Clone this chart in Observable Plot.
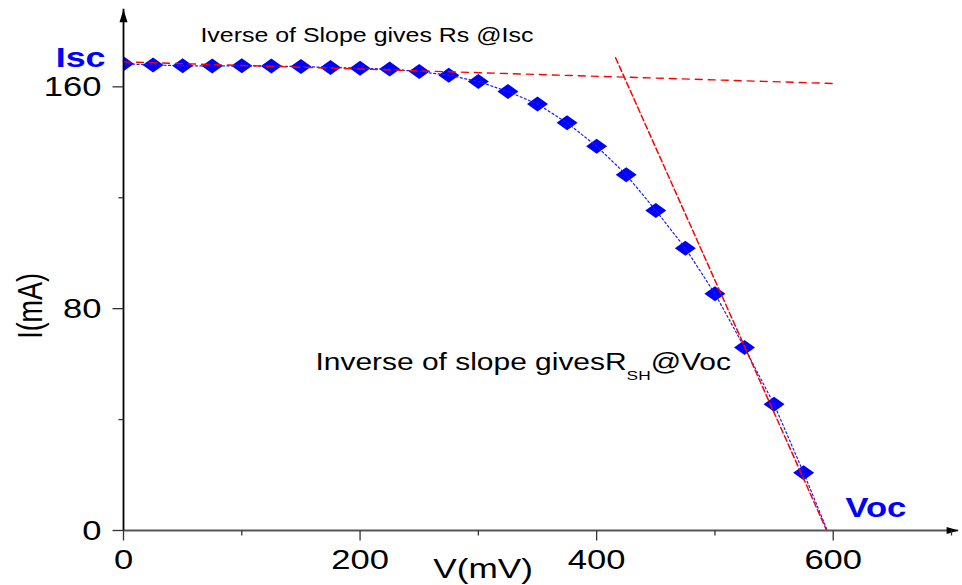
<!DOCTYPE html>
<html>
<head>
<meta charset="utf-8">
<script src="https://cdn.jsdelivr.net/npm/d3@7"></script>
<script src="https://cdn.jsdelivr.net/npm/@observablehq/plot@0.6"></script>
<style>
  html, body { margin: 0; padding: 0; background: #fff; }
  #chart svg { display: block; }
</style>
</head>
<body>
<div id="chart"></div>
<script>
// ---- data ----
const voltage = [0, 25, 50, 75, 100, 125, 150, 175, 200, 225, 250, 275, 300, 325, 350, 375, 400, 425, 450, 475, 500, 525, 550, 575];
const current = [168.3, 167.9, 167.6, 167.5, 167.6, 167.5, 167.3, 167.0, 166.7, 166.4, 165.5, 164.2, 161.9, 158.3, 153.8, 147.0, 138.6, 128.3, 115.4, 101.8, 85.4, 66.0, 45.5, 20.8];
const vocVoltage = 595;            // where the measured curve meets I = 0
const rsFitV = [0, 600];           // tangent near Isc
const rsFitI = [169.0, 161.2];
const rshFitV = [416, 594.5];      // tangent near Voc
const rshFitI = [170.5, 0];
const xMajorTicks = [0, 200, 400, 600];
const xMinorTicks = [100, 300, 500, 700];
const yMajorTicks = [0, 80, 160];
const yMinorTicks = [40, 120];
const xLabel = "V(mV)";
const yLabel = "I(mA)";
const noteRs = "Iverse of Slope gives Rs @Isc";
const noteRshParts = ["Inverse of slope givesR", "SH", "@Voc"];
const iscLabel = "Isc";
const vocLabel = "Voc";
const xAxisEnd = 706;
const yAxisEnd = 188;

// ---- tables built from the arrays ----
const points = voltage.map((v, k) => ({v, i: current[k]}));
const curve = [...points, {v: vocVoltage, i: 0}];
const rsFit = rsFitV.map((v, k) => ({v, i: rsFitI[k]}));
const rshFit = rshFitV.map((v, k) => ({v, i: rshFitI[k]}));

// ---- custom symbols ----
const diamond = {draw(c) { c.moveTo(0, -7.5); c.lineTo(10.5, 0); c.lineTo(0, 7.5); c.lineTo(-10.5, 0); c.closePath(); }};
const tickDown = len => ({draw(c) { c.moveTo(0, 0); c.lineTo(0, len); }});
const tickLeft = len => ({draw(c) { c.moveTo(0, 0); c.lineTo(-len, 0); }});
const arrowUp = {draw(c) { c.moveTo(0, 0); c.lineTo(4, 13); c.lineTo(-4, 13); c.closePath(); }};
const arrowRight = {draw(c) { c.moveTo(0, 0); c.lineTo(-12, 3.5); c.lineTo(-12, -3.5); c.closePath(); }};

const FONT = "Liberation Sans, Arial, Helvetica, sans-serif";
const BLUE = "#0000ff";
const RED = "#ff0000";

const svg = Plot.plot({
  width: 962,
  height: 585,
  marginLeft: 123,
  marginRight: 11,
  marginTop: 17,
  marginBottom: 55,
  x: {domain: [0, 700], axis: null},
  y: {domain: [0, 185], axis: null},
  style: {background: "#fff", overflow: "visible"},
  marks: [
    // data diamonds
    Plot.dot(points, {x: "v", y: "i", symbol: diamond, r: 5, fill: BLUE, stroke: "none", clip: true}),
    // dotted curve through the data
    Plot.line(curve, {x: "v", y: "i", stroke: "#1a1aff", strokeWidth: 1.2, strokeDasharray: "2,2.5"}),
    // red tangents
    Plot.line(rsFit, {x: "v", y: "i", stroke: RED, strokeWidth: 1.4, strokeDasharray: "7,6"}),
    Plot.line(rshFit, {x: "v", y: "i", stroke: RED, strokeWidth: 1.5, strokeDasharray: "6,3"}),
    // axis lines
    Plot.ruleY([0], {x1: 0, x2: xAxisEnd, stroke: "#555", strokeWidth: 2}),
    Plot.ruleX([0], {y1: 0, y2: yAxisEnd, stroke: "#000", strokeWidth: 1.8}),
    Plot.dot([yAxisEnd], {x: 0, y: d => d, symbol: arrowUp, r: 5, fill: "#000", stroke: "none"}),
    Plot.dot([xAxisEnd], {x: d => d, y: 0, symbol: arrowRight, r: 5, fill: "#000", stroke: "none"}),
    // ticks
    Plot.dot(xMajorTicks, {x: d => d, y: 0, symbol: tickDown(10), r: 5, fill: "none", stroke: "#333", strokeWidth: 1.3}),
    Plot.dot(xMinorTicks, {x: d => d, y: 0, symbol: tickDown(5), r: 5, fill: "none", stroke: "#333", strokeWidth: 1.3}),
    Plot.dot(yMajorTicks, {x: 0, y: d => d, symbol: tickLeft(11), r: 5, fill: "none", stroke: "#333", strokeWidth: 1.3}),
    Plot.dot(yMinorTicks, {x: 0, y: d => d, symbol: tickLeft(5), r: 5, fill: "none", stroke: "#333", strokeWidth: 1.3}),
    // tick labels
    Plot.text(xMajorTicks, {x: d => d, y: 0, text: d => String(d), dy: 38, lineAnchor: "bottom", textAnchor: "middle", fontSize: 27, fontFamily: FONT, fill: "#000"}),
    Plot.text(yMajorTicks, {x: 0, y: d => d, text: d => String(d), dx: -22, dy: 9, lineAnchor: "bottom", textAnchor: "end", fontSize: 27, fontFamily: FONT, fill: "#000"}),
    // axis titles
    Plot.text([xLabel], {x: 304, y: 0, dy: 47, text: d => d, lineAnchor: "bottom", textAnchor: "middle", fontSize: 27.5, fontFamily: FONT, fill: "#000"}),
    Plot.text([yLabel], {x: -68.5, y: 81, text: d => d, rotate: -90, lineAnchor: "bottom", textAnchor: "middle", fontSize: 27, fontFamily: FONT, fill: "#000"}),
    // annotations
    Plot.text([noteRs], {x: 65, y: 176.1, text: d => d, lineAnchor: "bottom", textAnchor: "start", fontSize: 19.5, fontFamily: FONT, fill: "#000"}),
    Plot.text([noteRshParts.join("")], {x: 162.3, y: 57.9, text: d => d, lineAnchor: "bottom", textAnchor: "start", fontSize: 23.4, fontFamily: FONT, fill: "#000"}),
    Plot.text([iscLabel], {x: -15.2, y: 167.1, text: d => d, lineAnchor: "bottom", textAnchor: "end", fontSize: 28, fontWeight: "bold", fontFamily: FONT, fill: BLUE}),
    Plot.text([vocLabel], {x: 610.3, y: 4.7, text: d => d, lineAnchor: "bottom", textAnchor: "start", fontSize: 27, fontWeight: "bold", fontFamily: FONT, fill: BLUE})
  ]
});

// subscript for R_SH
const joined = noteRshParts.join("");
svg.querySelectorAll("text").forEach(t => {
  if (t.textContent === joined) {
    t.textContent = "";
    const ns = "http://www.w3.org/2000/svg";
    const a = document.createElementNS(ns, "tspan"); a.textContent = noteRshParts[0];
    const b = document.createElementNS(ns, "tspan"); b.textContent = noteRshParts[1];
    b.setAttribute("font-size", "13.5"); b.setAttribute("dy", "10");
    const c = document.createElementNS(ns, "tspan"); c.textContent = noteRshParts[2];
    c.setAttribute("dy", "-10");
    t.append(a, b, c);
  }
});

// the reference is stretched horizontally; widen glyphs accordingly
const STRETCH = 1.28;
svg.querySelectorAll("text").forEach(t => {
  const tr = t.getAttribute("transform") || "";
  const x = parseFloat(t.getAttribute("x")) || 0;
  const y = parseFloat(t.getAttribute("y")) || 0;
  t.removeAttribute("x"); t.removeAttribute("y");
  const rotated = tr.includes("rotate");
  t.setAttribute("transform", `${tr} translate(${x},${y}) ` + (rotated ? `scale(1,${STRETCH})` : `scale(${STRETCH},1)`));
});

document.getElementById("chart").append(svg);
</script>
</body>
</html>
